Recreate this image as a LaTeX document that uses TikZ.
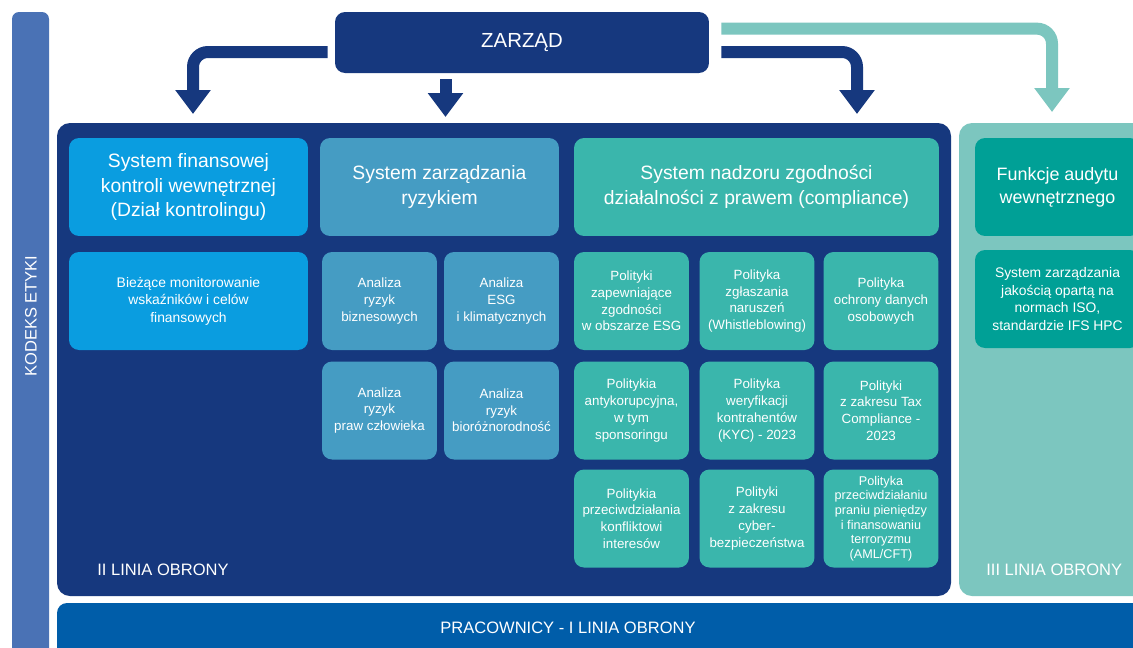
\documentclass[tikz,border=0pt]{standalone}
\usepackage{fontspec}
\setmainfont{Liberation Sans}
\usetikzlibrary{arrows.meta}

\definecolor{navy}{HTML}{16387E}
\definecolor{kodeks}{HTML}{4A72B5}
\definecolor{pracbar}{HTML}{005DA9}
\definecolor{finblue}{HTML}{0A9DE0}
\definecolor{riskblue}{HTML}{459CC3}
\definecolor{compteal}{HTML}{3AB6AC}
\definecolor{lightteal}{HTML}{7CC6BF}
\definecolor{audteal}{HTML}{00A096}

\tikzset{
  card/.style={rounded corners=0.2cm, inner sep=0pt, align=center, text=white},
  bigtxt/.style={font=\fontsize{11}{14.2}\selectfont},
  smalltxt/.style={font=\fontsize{7.6}{9.5}\selectfont},
  midtxt/.style={font=\fontsize{7.9}{10}\selectfont},
  wide/.style={minimum width=4.78cm, minimum height=1.96cm},
  narrow/.style={minimum width=2.3cm, minimum height=1.96cm},
  linelabel/.style={text=white, font=\fontsize{9.4}{11}\selectfont, inner sep=0pt},
  flowline/.style={line width=0.24cm, rounded corners=0.3cm,
    -{Triangle[width=0.68cm, length=0.48cm]}}
}

\begin{document}
\begin{tikzpicture}[x=0.02cm, y=-0.02cm]
    \useasboundingbox[fill=white] (0,0) rectangle (1133,647);

    \fill[kodeks, rounded corners=0.14cm] (12,12) rectangle (49,660);
    \fill[navy, rounded corners=0.26cm] (57,123) rectangle (951,596);
    \fill[lightteal, rounded corners=0.26cm] (959,123) rectangle (1150,596);
    \fill[pracbar, rounded corners=0.2cm] (57,603) rectangle (1150,670);

    \node[rotate=90, linelabel] (kodeks) at (31,316) {KODEKS ETYKI};
    \node[linelabel, anchor=west] (linia2) at (97,570) {II LINIA OBRONY};
    \node[linelabel, anchor=west] (linia3) at (986,570) {III LINIA OBRONY};
    \node[linelabel] (linia1) at (568,628) {PRACOWNICY - I LINIA OBRONY};

    \node[card, fill=navy, minimum width=7.48cm, minimum height=1.22cm,
      font=\fontsize{11.6}{14}\selectfont] (zarzad) at (522,42.5) {ZARZĄD};

    \coordinate (tipfin) at (193,114);
    \coordinate (tipryz) at (445.5,117);
    \coordinate (tipcomp) at (857,114);
    \coordinate (tipaud) at (1052,112);

    \draw[navy, flowline] ([xshift=-0.14cm, yshift=-0.19cm]zarzad.west) -| (tipfin);
    \draw[navy, flowline] ([yshift=-0.12cm]zarzad.south -| tipryz) -- (tipryz);
    \draw[navy, flowline] ([xshift=0.24cm, yshift=-0.19cm]zarzad.east) -| (tipcomp);
    \draw[lightteal, flowline] ([xshift=0.24cm, yshift=-0.34cm]zarzad.north east) -| (tipaud);

    \node[card, wide, bigtxt, fill=finblue] (fin) at (188.5,187) {System finansowej\\kontroli wewnętrznej\\(Dział kontrolingu)};
    \node[card, wide, bigtxt, fill=riskblue] (ryz) at (439.5,187) {System zarządzania\\ryzykiem};
    \node[card, bigtxt, fill=compteal, minimum width=7.3cm, minimum height=1.96cm] (comp) at (756.5,187) {System nadzoru zgodności\\działalności z prawem (compliance)};
    \node[card, fill=audteal, minimum width=3.3cm, minimum height=1.96cm,
      font=\fontsize{10.2}{13}\selectfont] (aud) at (1057.5,187) {Funkcje audytu\\wewnętrznego};

    \node[card, wide, midtxt, fill=finblue] (biez) at (188.5,301) {Bieżące monitorowanie\\wskaźników i celów\\finansowych};
    \node[card, narrow, smalltxt, fill=riskblue] (an1) at (379.5,301) {Analiza\\ryzyk\\biznesowych};
    \node[card, narrow, smalltxt, fill=riskblue] (an2) at (501.5,301) {Analiza\\ESG\\i klimatycznych};
    \node[card, narrow, smalltxt, fill=compteal] (pol1) at (631.5,301) {Polityki\\zapewniające\\zgodności\\w obszarze ESG};
    \node[card, narrow, smalltxt, fill=compteal] (pol2) at (757,301) {Polityka\\zgłaszania\\naruszeń\\(Whistleblowing)};
    \node[card, narrow, smalltxt, fill=compteal] (pol3) at (881,301) {Polityka\\ochrony danych\\osobowych};
    \node[card, midtxt, fill=audteal, minimum width=3.3cm, minimum height=1.96cm] (jak) at (1057.5,299) {System zarządzania\\jakością opartą na\\normach ISO,\\standardzie IFS HPC};

    \node[card, narrow, smalltxt, fill=riskblue] (an3) at (379.5,410.5) {Analiza\\ryzyk\\praw człowieka};
    \node[card, narrow, smalltxt, fill=riskblue] (an4) at (501.5,410.5) {Analiza\\ryzyk\\bioróżnorodność};
    \node[card, narrow, smalltxt, fill=compteal] (pol4) at (631.5,410.5) {Politykia\\antykorupcyjna,\\w tym\\sponsoringu};
    \node[card, narrow, smalltxt, fill=compteal] (pol5) at (757,410.5) {Polityka\\weryfikacji\\kontrahentów\\(KYC) - 2023};
    \node[card, narrow, smalltxt, fill=compteal] (pol6) at (881,410.5) {Polityki\\z zakresu Tax\\Compliance -\\2023};

    \node[card, narrow, smalltxt, fill=compteal] (pol7) at (631.5,518.5) {Politykia\\przeciwdziałania\\konfliktowi\\interesów};
    \node[card, narrow, smalltxt, fill=compteal] (pol8) at (757,518.5) {Polityki\\z zakresu\\cyber-\\bezpieczeństwa};
    \node[card, narrow, fill=compteal, font=\fontsize{7.2}{8.3}\selectfont] (pol9) at (881,518.5) {Polityka\\przeciwdziałaniu\\praniu pieniędzy\\i finansowaniu\\terroryzmu\\(AML/CFT)};
\end{tikzpicture}
\end{document}
